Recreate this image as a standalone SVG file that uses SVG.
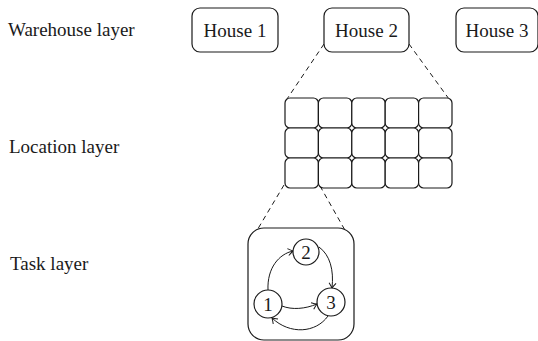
<svg xmlns="http://www.w3.org/2000/svg" width="538" height="341" viewBox="0 0 538 341">
<defs>
<style>
text{font-family:'Liberation Serif','DejaVu Serif',serif;font-size:19px;fill:#1a1a1a}
.box{fill:#fff;stroke:#1a1a1a;stroke-width:1.2}
.cell{fill:#fff;stroke:#1a1a1a;stroke-width:1.2}
.dash{stroke:#1a1a1a;stroke-width:1;stroke-dasharray:5 4;fill:none}
.edge{stroke:#1a1a1a;stroke-width:1;fill:none;marker-end:url(#arr)}
.mid{text-anchor:middle}
</style>
<marker id="arr" viewBox="-6 -5 8 10" markerWidth="8" markerHeight="10" refX="0" refY="0" orient="auto" markerUnits="userSpaceOnUse">
<path d="M-5,-3.5 Q-1.5,-0.8 0,0 Q-1.5,0.8 -5,3.5" fill="none" stroke="#1a1a1a" stroke-width="1"/>
</marker>
</defs>
<g id="labels">
<text x="8" y="36">Warehouse layer</text>
<text x="9" y="153">Location layer</text>
<text x="10" y="270">Task layer</text>
</g>
<g id="connectors">
<line class="dash" x1="324" y1="44" x2="287" y2="99"/>
<line class="dash" x1="409" y1="44" x2="449" y2="99"/>
<line class="dash" x1="284" y1="185" x2="256" y2="232"/>
<line class="dash" x1="320" y1="186" x2="346" y2="232"/>
</g>
<g id="house1"><rect class="box" x="192" y="8" width="86" height="44" rx="8"/><text class="mid" x="235" y="37">House 1</text></g>
<g id="house2"><rect class="box" x="324" y="8" width="85" height="44" rx="8"/><text class="mid" x="366.5" y="37">House 2</text></g>
<g id="house3"><rect class="box" x="456" y="8" width="82" height="44" rx="8"/><text class="mid" x="497" y="37">House 3</text></g>
<g id="locations">
<rect class="cell" x="285" y="98" width="33.4" height="30" rx="5"/>
<rect class="cell" x="318.4" y="98" width="33.4" height="30" rx="5"/>
<rect class="cell" x="351.8" y="98" width="33.4" height="30" rx="5"/>
<rect class="cell" x="385.2" y="98" width="33.4" height="30" rx="5"/>
<rect class="cell" x="418.6" y="98" width="33.4" height="30" rx="5"/>
<rect class="cell" x="285" y="128" width="33.4" height="30" rx="5"/>
<rect class="cell" x="318.4" y="128" width="33.4" height="30" rx="5"/>
<rect class="cell" x="351.8" y="128" width="33.4" height="30" rx="5"/>
<rect class="cell" x="385.2" y="128" width="33.4" height="30" rx="5"/>
<rect class="cell" x="418.6" y="128" width="33.4" height="30" rx="5"/>
<rect class="cell" x="285" y="158" width="33.4" height="30" rx="5"/>
<rect class="cell" x="318.4" y="158" width="33.4" height="30" rx="5"/>
<rect class="cell" x="351.8" y="158" width="33.4" height="30" rx="5"/>
<rect class="cell" x="385.2" y="158" width="33.4" height="30" rx="5"/>
<rect class="cell" x="418.6" y="158" width="33.4" height="30" rx="5"/>
</g>
<g id="taskbox"><rect class="box" x="248" y="228" width="106" height="112" rx="16"/></g>
<g id="task-edges">
<path class="edge" d="M268,290 C267,268 279,254 293,251"/>
<path class="edge" d="M319,247 C330,255 334,270 332,288"/>
<path class="edge" d="M282,306 C292,310 305,309 317,304"/>
<path class="edge" d="M328,316 C316,333 290,335 272,318"/>
</g>
<g id="task1"><circle class="box" cx="268" cy="304" r="14"/><text class="mid" x="268" y="310.5">1</text></g>
<g id="task2"><circle class="box" cx="306" cy="252" r="13"/><text class="mid" x="306" y="258.5">2</text></g>
<g id="task3"><circle class="box" cx="331" cy="302" r="14"/><text class="mid" x="331" y="308.5">3</text></g>
</svg>
